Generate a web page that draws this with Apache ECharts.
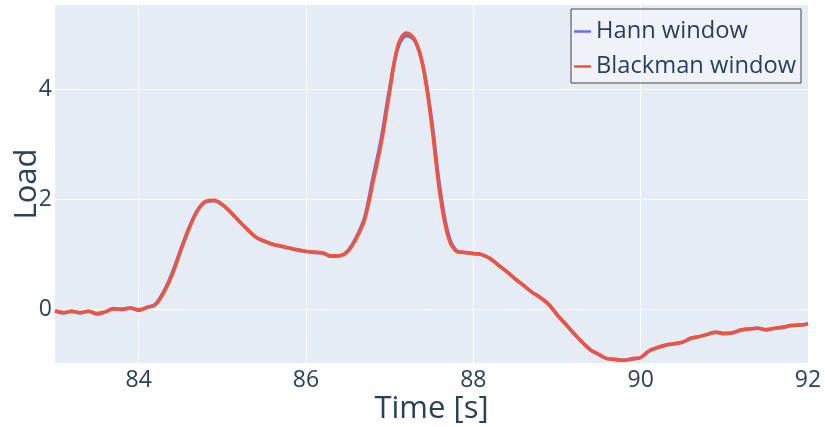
<!DOCTYPE html>
<html>
<head>
<meta charset="utf-8">
<script src="https://cdn.jsdelivr.net/npm/echarts@6/dist/echarts.min.js"></script>
<style>
  html, body { margin: 0; padding: 0; background: #fff; }
  #chart { width: 825px; height: 427px; }
</style>
</head>
<body>
<div id="chart"></div>
<script>
// Sample times [s], 0.1 s apart
const times = [
  83.0, 83.1, 83.2, 83.3, 83.4, 83.5, 83.6, 83.7, 83.8, 83.9,
  84.0, 84.1, 84.2, 84.3, 84.4, 84.5, 84.6, 84.7, 84.8, 84.9,
  85.0, 85.1, 85.2, 85.3, 85.4, 85.5, 85.6, 85.7, 85.8, 85.9,
  86.0, 86.1, 86.2, 86.3, 86.4, 86.5, 86.6, 86.7, 86.8, 86.9,
  87.0, 87.1, 87.2, 87.3, 87.4, 87.5, 87.6, 87.7, 87.8, 87.9,
  88.0, 88.1, 88.2, 88.3, 88.4, 88.5, 88.6, 88.7, 88.8, 88.9,
  89.0, 89.1, 89.2, 89.3, 89.4, 89.5, 89.6, 89.7, 89.8, 89.9,
  90.0, 90.1, 90.2, 90.3, 90.4, 90.5, 90.6, 90.7, 90.8, 90.9,
  91.0, 91.1, 91.2, 91.3, 91.4, 91.5, 91.6, 91.7, 91.8, 91.9,
  92.0
];

// Load smoothed with a Hann window
const hannLoad = [
  -0.03, -0.07, -0.04, -0.07, -0.04, -0.09, -0.05, 0.01, -0.01, 0.02,
  -0.02, 0.03, 0.09, 0.32, 0.65, 1.07, 1.47, 1.79, 1.95, 1.97,
  1.90, 1.76, 1.60, 1.45, 1.31, 1.23, 1.18, 1.14, 1.11, 1.07,
  1.05, 1.03, 1.02, 0.96, 0.97, 1.06, 1.30, 1.66, 2.38, 3.10,
  4.02, 4.76, 4.97, 4.88, 4.42, 3.46, 2.20, 1.36, 1.06, 1.03,
  1.01, 0.99, 0.92, 0.80, 0.68, 0.55, 0.43, 0.31, 0.21, 0.09,
  -0.10, -0.27, -0.44, -0.60, -0.74, -0.83, -0.90, -0.92, -0.93, -0.91,
  -0.88, -0.76, -0.70, -0.66, -0.63, -0.60, -0.53, -0.50, -0.46, -0.42,
  -0.45, -0.43, -0.38, -0.36, -0.35, -0.38, -0.35, -0.33, -0.30, -0.29,
  -0.27
];

// Load smoothed with a Blackman window
const blackmanLoad = [
  -0.03, -0.06, -0.04, -0.06, -0.04, -0.08, -0.05, 0.00, 0.00, 0.02,
  -0.01, 0.03, 0.08, 0.30, 0.62, 1.05, 1.45, 1.78, 1.96, 1.98,
  1.90, 1.76, 1.60, 1.45, 1.31, 1.24, 1.18, 1.15, 1.11, 1.08,
  1.05, 1.04, 1.02, 0.97, 0.97, 1.05, 1.28, 1.62, 2.30, 3.02,
  3.95, 4.80, 5.02, 4.90, 4.40, 3.38, 2.10, 1.31, 1.05, 1.03,
  1.01, 0.99, 0.92, 0.80, 0.68, 0.55, 0.43, 0.31, 0.21, 0.09,
  -0.10, -0.27, -0.44, -0.60, -0.74, -0.82, -0.90, -0.91, -0.93, -0.90,
  -0.88, -0.76, -0.70, -0.65, -0.63, -0.60, -0.53, -0.50, -0.46, -0.42,
  -0.44, -0.43, -0.38, -0.36, -0.35, -0.37, -0.35, -0.33, -0.30, -0.29,
  -0.27
];

const xTicks = [84, 86, 88, 90, 92];
const yTicks = [0, 2, 4];
const seriesNames = ['Hann window', 'Blackman window'];

const FONT = '"Open Sans", "DejaVu Sans", sans-serif';
const INK = '#2a3f5f';

const pairs = (ys) => times.map((t, i) => [t, ys[i]]);

const chart = echarts.init(document.getElementById('chart'), null, { renderer: 'canvas' });

chart.setOption({
  backgroundColor: '#ffffff',
  animation: false,
  grid: {
    left: 55, right: 17, top: 5, bottom: 64,
    containLabel: false,
    outerBoundsMode: 'none',
    show: true, backgroundColor: '#E5ECF6', borderWidth: 0
  },
  xAxis: {
    type: 'value',
    min: 83, max: 92,
    name: 'Time [s]',
    nameLocation: 'middle',
    nameGap: 31,
    nameMoveOverlap: false,
    nameTextStyle: { fontFamily: FONT, fontSize: 31, color: INK },
    axisLine: { show: false },
    axisTick: { show: false, customValues: xTicks },
    axisLabel: { customValues: xTicks, fontFamily: FONT, fontSize: 23, color: INK, margin: 6 },
    splitLine: { show: true, lineStyle: { color: '#ffffff', width: 1 } }
  },
  yAxis: {
    type: 'value',
    min: -0.98, max: 5.53,
    name: 'Load',
    nameLocation: 'middle',
    nameGap: 12,
    nameMoveOverlap: false,
    nameTextStyle: { fontFamily: FONT, fontSize: 31, color: INK },
    axisLine: { show: false },
    axisTick: { show: false, customValues: yTicks },
    axisLabel: { customValues: yTicks, fontFamily: FONT, fontSize: 23, color: INK, margin: 3 },
    splitLine: { show: true, lineStyle: { color: '#ffffff', width: 1 } }
  },
  legend: {
    orient: 'vertical',
    right: 24, top: 9,
    padding: [9, 5, 3, 3],
    itemGap: 8,
    itemWidth: 17, itemHeight: 2.5,
    icon: 'rect',
    backgroundColor: 'rgba(244,246,251,0.7)',
    borderColor: '#444444', borderWidth: 1,
    textStyle: { fontFamily: FONT, fontSize: 23.7, color: INK, padding: [0, 0, 0, 0], lineHeight: 27 },
    data: seriesNames
  },
  series: [
    {
      name: seriesNames[0], type: 'line', data: pairs(hannLoad),
      showSymbol: false, smooth: 0.35,
      itemStyle: { color: '#636efa' },
      lineStyle: { color: '#636efa', width: 3.5 }
    },
    {
      name: seriesNames[1], type: 'line', data: pairs(blackmanLoad),
      showSymbol: false, smooth: 0.35,
      itemStyle: { color: '#EF553B' },
      lineStyle: { color: '#EF553B', width: 3.5 }
    }
  ]
});
</script>
</body>
</html>
